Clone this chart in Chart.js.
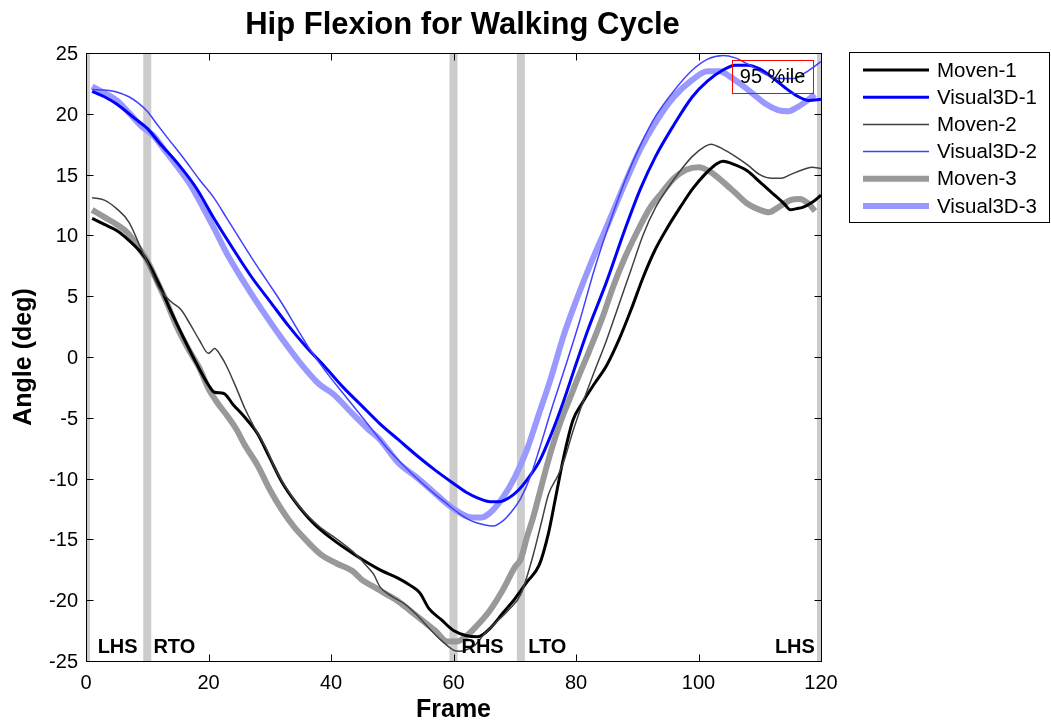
<!DOCTYPE html>
<html>
<head>
<meta charset="utf-8">
<script src="https://cdn.jsdelivr.net/npm/chart.js@4.4.1/dist/chart.umd.min.js"></script>
<style>
  html, body { margin: 0; padding: 0; background: #fff; }
  #wrap { width: 1051px; height: 725px; }
</style>
</head>
<body>
<div id="wrap"><canvas id="hipChart" width="1051" height="725"></canvas></div>
<script>
// gait data, frame -> hip flexion angle (deg)
const moven1Frames = [1, 3, 5, 7, 9, 10, 12, 14, 16, 18, 20, 21, 22.5, 24, 26, 28, 30, 32, 34, 37, 40, 44, 48, 51, 53, 54.5, 56, 58, 60, 62, 64, 66, 68, 70, 72, 74, 75.5, 76.5, 78, 79.5, 81, 83, 85, 87, 89, 91, 93, 95, 97, 99, 101, 103, 104, 106, 108, 110, 112, 114, 115, 116, 117, 118.5, 120];
const moven1Angles = [11.4, 10.9, 10.4, 9.6, 8.6, 7.9, 5.9, 3.6, 1.5, -0.5, -2.3, -2.9, -3.0, -3.9, -5.0, -6.3, -8.3, -10.3, -11.8, -13.6, -14.9, -16.3, -17.5, -18.2, -18.8, -19.4, -20.7, -21.6, -22.5, -22.9, -23.0, -22.3, -21.1, -19.9, -18.5, -17.1, -14.5, -12.0, -8.2, -5.2, -3.8, -2.2, -0.7, 1.4, 3.9, 6.6, 8.9, 10.7, 12.3, 13.8, 15.0, 15.9, 16.1, 15.8, 15.3, 14.4, 13.5, 12.6, 12.1, 12.2, 12.3, 12.7, 13.3];

const visual1Frames = [1, 3, 5, 8, 10, 12, 15, 18, 21, 24, 27, 30, 33, 36, 39, 42, 45, 48, 51, 54, 57, 60, 62, 64, 66, 67.5, 69, 70.5, 72, 74, 76, 78, 80, 82, 85, 88, 90.5, 93, 96, 99, 101.5, 104, 106, 108, 110, 112, 114, 116, 118, 120];
const visual1Angles = [21.85, 21.4, 20.8, 19.6, 18.8, 17.6, 15.9, 13.9, 11.3, 8.9, 6.6, 4.6, 2.6, 0.8, -0.8, -2.5, -4.0, -5.5, -6.8, -8.1, -9.3, -10.4, -11.1, -11.6, -11.9, -11.9, -11.6, -11.0, -10.1, -8.6, -6.3, -3.6, -0.6, 2.3, 6.2, 10.5, 13.8, 16.5, 19.1, 21.4, 22.7, 23.6, 24.0, 24.0, 23.7, 23.0, 22.2, 21.5, 21.1, 21.2];

const moven2Frames = [1, 3, 5, 7, 9, 10, 12, 14, 15.5, 17, 18.5, 20, 21, 22, 23, 24.5, 26, 27.5, 29.5, 31, 33, 35, 38, 41, 44, 46, 47, 48, 50, 52, 54, 56, 58, 60, 61, 62, 63.5, 65, 67, 69, 71, 73, 74.5, 75.5, 77, 78, 79.5, 81, 83, 85, 87, 89, 91, 93, 95, 97, 99, 101, 102, 104, 106, 108, 110, 112, 113.5, 115, 117, 118.5, 120];
const moven2Angles = [13.1, 12.9, 12.2, 11.1, 8.9, 7.8, 5.6, 4.5, 3.9, 2.7, 1.4, 0.3, 0.7, 0.1, -0.8, -2.5, -4.3, -5.8, -7.6, -9.3, -11.0, -12.4, -13.9, -15.0, -16.2, -17.3, -17.9, -18.9, -19.7, -20.3, -21.2, -22.3, -23.3, -24.1, -24.2, -24.1, -23.7, -22.8, -21.8, -20.8, -19.5, -16.3, -13.3, -11.3, -9.8, -8.6, -6.1, -3.9, -1.2, 1.4, 4.3, 7.2, 10.1, 12.3, 13.9, 15.3, 16.5, 17.3, 17.5, 17.1, 16.5, 15.8, 15.0, 14.7, 14.7, 15.0, 15.4, 15.6, 15.5];

const visual2Frames = [1, 3, 5, 7, 8.5, 10, 11.5, 13.5, 16, 18.5, 21, 23, 25, 27, 29.5, 32, 34.5, 36.6, 39, 42, 45.5, 49, 52, 54.5, 57, 59, 61, 63, 65, 66.5, 68, 69.5, 71, 72.5, 74, 76, 78, 80.5, 83, 85, 88, 90.5, 93, 96, 99, 101.5, 104, 106, 108, 110, 112, 113.5, 115.5, 117.5, 120];
const visual2Angles = [22.0, 21.95, 21.8, 21.4, 20.9, 20.2, 19.2, 17.9, 16.3, 14.6, 13.0, 11.4, 9.8, 8.2, 6.3, 4.4, 2.3, 0.6, -1.1, -3.0, -5.2, -7.4, -9.0, -10.2, -11.3, -12.1, -12.9, -13.5, -13.8, -13.9, -13.5, -12.7, -11.6, -9.9, -7.6, -4.3, -1.2, 2.8, 7.2, 10.3, 14.5, 17.4, 19.8, 21.9, 23.6, 24.5, 24.8, 24.6, 24.1, 23.5, 23.0, 22.9, 22.9, 23.4, 24.3];

const moven3Frames = [1, 3, 5, 7, 8, 10, 12, 13, 15, 17, 18.5, 20, 21.5, 23, 24.5, 26, 28, 30, 32, 34, 36, 38.5, 41, 43.5, 45, 47, 49, 51, 53, 55, 57, 59, 60.5, 62, 64, 66, 68, 70, 71, 72, 73, 74, 75, 76, 77.5, 79, 80.5, 82, 84.5, 86, 88, 90, 92, 94, 96, 98, 100, 102, 104, 106, 108, 110, 111.5, 113, 115, 116.5, 118, 119];
const moven3Angles = [12.1, 11.5, 10.9, 10.1, 9.4, 7.9, 5.8, 4.7, 2.3, 0.4, -0.9, -2.6, -3.8, -4.8, -5.9, -7.3, -8.9, -10.9, -12.6, -14.0, -15.1, -16.3, -17.0, -17.6, -18.3, -18.9, -19.5, -20.1, -20.9, -21.7, -22.5, -23.4, -23.4, -23.0, -22.0, -20.8, -19.2, -17.3, -16.6, -14.8, -13.2, -11.3, -9.4, -7.6, -5.3, -3.4, -1.5, 0.3, 3.5, 5.7, 8.2, 10.3, 12.2, 13.5, 14.7, 15.4, 15.6, 15.2, 14.4, 13.5, 12.6, 12.1, 11.9, 12.3, 12.9, 13.0, 12.6, 12.0];

const visual3Frames = [1, 3, 5, 7, 9, 11, 13, 15, 17, 19, 21, 23, 25, 27, 29.5, 32, 35, 38, 40.5, 43, 46, 48, 51, 54, 56.5, 59, 61, 63, 64.5, 66, 68, 70, 72, 74, 75.8, 78, 80, 82.5, 85, 88, 90.5, 93, 96, 99, 101.5, 103.5, 105, 107, 109, 111, 113, 114.5, 116, 117.5, 119];
const visual3Angles = [22.25, 21.7, 21.1, 20.1, 19.0, 18.2, 16.9, 15.6, 14.2, 12.4, 10.5, 8.5, 6.8, 5.2, 3.3, 1.5, -0.5, -2.2, -3.1, -4.4, -5.9, -6.8, -8.7, -9.9, -11.0, -12.1, -12.8, -13.2, -13.2, -12.8, -11.6, -9.9, -7.6, -4.6, -1.9, 1.8, 4.6, 7.8, 10.7, 14.3, 17.1, 19.3, 21.4, 22.8, 23.5, 23.5, 23.1, 22.4, 21.6, 20.8, 20.3, 20.2, 20.5, 21.0, 21.6];

const seriesNames = ['Moven-1', 'Visual3D-1', 'Moven-2', 'Visual3D-2', 'Moven-3', 'Visual3D-3'];

// gait events: grey marker bars + labels
const eventFrames = [0, 10, 60, 71, 120];
const eventNames = ['LHS', 'RTO', 'RHS', 'LTO', 'LHS'];
const eventLabelFrames = [1.9, 11.0, 61.3, 72.2, 119.0];

const xTicks = [0, 20, 40, 60, 80, 100, 120];
const yTicks = [-25, -20, -15, -10, -5, 0, 5, 10, 15, 20, 25];

// "95 %ile" note box, in data units
const noteText = '95 %ile';
const noteBox = { x0: 105.5, x1: 118.7, y0: 24.4, y1: 21.7 };

const FONT = '"Liberation Sans", Arial, Helvetica, sans-serif';

function pts(frames, vals) {
    return frames.map((f, i) => ({ x: f, y: vals[i] }));
}

const styles = [
    { color: '#000000', width: 3,   order: 3 },
    { color: '#0000ff', width: 3,   order: 2 },
    { color: '#404040', width: 1.5, order: 1 },
    { color: '#4040ff', width: 1.5, order: 0 },
    { color: '#999999', width: 6,   order: 5 },
    { color: '#9999ff', width: 6,   order: 4 }
];

const seriesData = [
    pts(moven1Frames, moven1Angles),
    pts(visual1Frames, visual1Angles),
    pts(moven2Frames, moven2Angles),
    pts(visual2Frames, visual2Angles),
    pts(moven3Frames, moven3Angles),
    pts(visual3Frames, visual3Angles)
];

const datasets = seriesNames.map((name, i) => ({
    label: name,
    data: seriesData[i],
    borderColor: styles[i].color,
    borderWidth: styles[i].width,
    order: styles[i].order,
    pointRadius: 0,
    fill: false,
    cubicInterpolationMode: 'monotone',
    borderJoinStyle: 'round',
    borderCapStyle: 'butt'
}));

const decor = {
    id: 'decor',
    beforeDatasetsDraw(chart) {
        const { ctx, chartArea: a, scales: { x } } = chart;
        ctx.save();
        ctx.beginPath();
        ctx.rect(a.left, a.top, a.right - a.left, a.bottom - a.top);
        ctx.clip();
        ctx.fillStyle = '#cccccc';
        eventFrames.forEach(f => {
            const px = x.getPixelForValue(f);
            ctx.fillRect(px - 4, a.top, 8, a.bottom - a.top);
        });
        ctx.restore();
    },
    afterDatasetsDraw(chart) {
        const { ctx, chartArea: a, scales: { x, y } } = chart;
        ctx.save();

        // event labels
        ctx.fillStyle = '#000';
        ctx.font = 'bold 20px ' + FONT;
        ctx.textBaseline = 'alphabetic';
        eventNames.forEach((n, i) => {
            const last = i === eventNames.length - 1;
            ctx.textAlign = last ? 'right' : 'left';
            ctx.fillText(n, x.getPixelForValue(eventLabelFrames[i]), a.bottom - 8);
        });

        // percentile note
        const nx0 = x.getPixelForValue(noteBox.x0), nx1 = x.getPixelForValue(noteBox.x1);
        const ny0 = y.getPixelForValue(noteBox.y0), ny1 = y.getPixelForValue(noteBox.y1);
        ctx.font = '20px ' + FONT;
        ctx.textAlign = 'center';
        ctx.textBaseline = 'middle';
        ctx.fillText(noteText, (nx0 + nx1) / 2, (ny0 + ny1) / 2 + 1);
        ctx.strokeStyle = '#ff0000';
        ctx.lineWidth = 1;
        ctx.strokeRect(Math.round(nx0) + 0.5, Math.round(ny0) + 0.5, Math.round(nx1 - nx0), Math.round(ny1 - ny0));

        // axes box and inward ticks
        ctx.strokeStyle = '#000';
        ctx.lineWidth = 1;
        const L = Math.round(a.left) + 0.5, R = Math.round(a.right) + 0.5;
        const T = Math.round(a.top) + 0.5, B = Math.round(a.bottom) + 0.5;
        ctx.strokeRect(L, T, R - L, B - T);
        ctx.beginPath();
        xTicks.forEach(v => {
            const px = Math.round(x.getPixelForValue(v)) + 0.5;
            ctx.moveTo(px, B); ctx.lineTo(px, B - 7);
            ctx.moveTo(px, T); ctx.lineTo(px, T + 7);
        });
        yTicks.forEach(v => {
            const py = Math.round(y.getPixelForValue(v)) + 0.5;
            ctx.moveTo(L, py); ctx.lineTo(L + 7, py);
            ctx.moveTo(R, py); ctx.lineTo(R - 7, py);
        });
        ctx.stroke();

        // tick labels
        ctx.fillStyle = '#000';
        ctx.font = '20px ' + FONT;
        ctx.textBaseline = 'alphabetic';
        ctx.textAlign = 'center';
        xTicks.forEach(v => ctx.fillText(String(v), x.getPixelForValue(v), a.bottom + 28));
        ctx.textAlign = 'right';
        yTicks.forEach(v => ctx.fillText(String(v), a.left - 8, y.getPixelForValue(v) + 7));

        // titles
        ctx.font = 'bold 31px ' + FONT;
        ctx.textAlign = 'center';
        ctx.fillText('Hip Flexion for Walking Cycle', (a.left + a.right) / 2 + 9, 34);
        ctx.font = 'bold 25px ' + FONT;
        ctx.fillText('Frame', (a.left + a.right) / 2, 717);
        ctx.save();
        ctx.translate(31, (a.top + a.bottom) / 2);
        ctx.rotate(-Math.PI / 2);
        ctx.fillText('Angle (deg)', 0, 0);
        ctx.restore();

        // legend
        const lx = 849.5, ly = 52.5, lw = 200, lh = 170;
        ctx.fillStyle = '#fff';
        ctx.fillRect(lx, ly, lw, lh);
        ctx.strokeStyle = '#000';
        ctx.strokeRect(lx, ly, lw, lh);
        ctx.font = '20.5px ' + FONT;
        ctx.textAlign = 'left';
        ctx.textBaseline = 'middle';
        chart.data.datasets.forEach((ds, i) => {
            const ry = 70 + i * 27.2;
            ctx.strokeStyle = ds.borderColor;
            ctx.lineWidth = ds.borderWidth;
            ctx.beginPath();
            ctx.moveTo(863, ry);
            ctx.lineTo(929, ry);
            ctx.stroke();
            ctx.fillStyle = '#000';
            ctx.fillText(ds.label, 937, ry + 1);
        });
        ctx.restore();
    }
};

new Chart(document.getElementById('hipChart'), {
    type: 'line',
    data: { datasets: datasets },
    plugins: [decor],
    options: {
        responsive: false,
        animation: false,
        events: [],
        layout: { padding: { left: 0, top: 53, right: 230, bottom: 0 } },
        plugins: { legend: { display: false }, title: { display: false }, tooltip: { enabled: false } },
        scales: {
            x: {
                type: 'linear', min: 0, max: 120,
                grid: { display: false, drawTicks: false },
                border: { display: false },
                ticks: { display: false, stepSize: 20 },
                afterFit(s) { s.height = 64; }
            },
            y: {
                type: 'linear', min: -25, max: 25,
                grid: { display: false, drawTicks: false },
                border: { display: false },
                ticks: { display: false, stepSize: 5 },
                afterFit(s) { s.width = 86; }
            }
        }
    }
});
</script>
</body>
</html>
